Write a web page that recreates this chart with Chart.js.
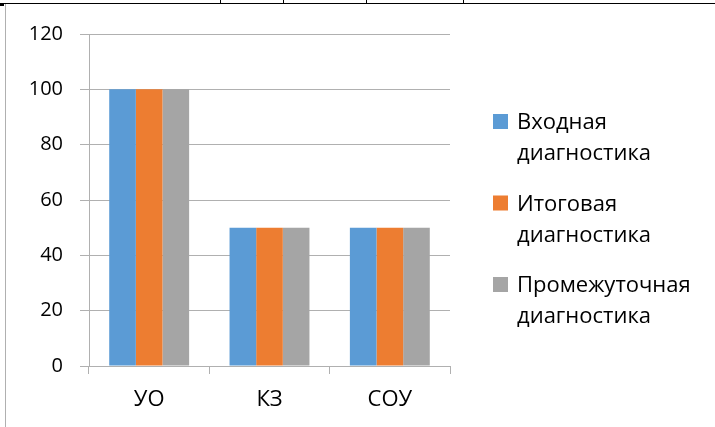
<!DOCTYPE html>
<html>
<head>
<meta charset="utf-8">
<script src="https://cdn.jsdelivr.net/npm/chart.js@4/dist/chart.umd.min.js"></script>
<style>
  html, body { margin: 0; padding: 0; background: #fff; }
  #wrap { position: relative; width: 715px; height: 427px; overflow: hidden; }
  .line { position: absolute; }
</style>
</head>
<body>
<div id="wrap">
  <div class="line" style="left:0;top:3px;width:715px;height:1px;background:#000"></div>
  <div class="line" style="left:220px;top:0;width:1px;height:4px;background:#000"></div>
  <div class="line" style="left:283px;top:0;width:1px;height:4px;background:#000"></div>
  <div class="line" style="left:366px;top:0;width:1px;height:4px;background:#000"></div>
  <div class="line" style="left:463px;top:0;width:1px;height:4px;background:#000"></div>
  <div class="line" style="left:0;top:3px;width:4px;height:3px;background:#000"></div>
  <div class="line" style="left:5px;top:4px;width:1px;height:423px;background:#b0b0b0"></div>
  <canvas id="myChart" width="715" height="427"></canvas>
</div>
<script>
const categories = ['УО', 'КЗ', 'СОУ'];
const seriesNames = ['Входная диагностика', 'Итоговая диагностика', 'Промежуточная диагностика'];
const vhodnaya = [100, 50, 50];
const itogovaya = [100, 50, 50];
const promezhutochnaya = [100, 50, 50];
const yTicks = [0, 20, 40, 60, 80, 100, 120];

const colors = ['#5B9BD5', '#ED7D31', '#A5A5A5'];
const fontFamily = "'Open Sans', 'Noto Sans', sans-serif";

// legend drawn by hand, each name split on two lines
const sideLegend = {
  id: 'sideLegend',
  afterDraw(chart) {
    const { ctx, chartArea } = chart;
    const x0 = chartArea.right + 43;
    let y0 = 114;
    ctx.save();
    ctx.font = '22px ' + fontFamily;
    ctx.textBaseline = 'middle';
    ctx.fillStyle = '#000';
    chart.data.datasets.forEach((ds) => {
      ctx.fillStyle = ds.backgroundColor;
      ctx.fillRect(x0, y0, 15, 15);
      ctx.fillStyle = '#000';
      const words = ds.label.split(' ');
      ctx.fillText(words[0], x0 + 24, y0 + 9);
      ctx.fillText(words.slice(1).join(' '), x0 + 24, y0 + 40);
      y0 += 81.5;
    });
    ctx.restore();
  },
};

new Chart(document.getElementById('myChart').getContext('2d'), {
  type: 'bar',
  data: {
    labels: categories,
    datasets: [
      { label: seriesNames[0], data: vhodnaya, backgroundColor: colors[0] },
      { label: seriesNames[1], data: itogovaya, backgroundColor: colors[1] },
      { label: seriesNames[2], data: promezhutochnaya, backgroundColor: colors[2] },
    ],
  },
  options: {
    responsive: false,
    animation: false,
    events: [],
    categoryPercentage: 0.664,
    barPercentage: 1,
    layout: { padding: { left: 0, top: 34, right: 265, bottom: 0 } },
    plugins: {
      legend: { display: false },
      tooltip: { enabled: false },
    },
    scales: {
      x: {
        grid: { display: true, drawOnChartArea: false, color: '#b0b0b0', tickLength: 8, offset: true },
        border: { color: '#b0b0b0' },
        ticks: { color: '#000', padding: 13, font: { size: 22, family: fontFamily } },
        afterFit(scale) { scale.height = 61; },
      },
      y: {
        min: 0,
        max: 120,
        afterBuildTicks(scale) { scale.ticks = yTicks.map((v) => ({ value: v })); },
        grid: { color: '#b0b0b0', tickLength: 9 },
        border: { color: '#b0b0b0' },
        ticks: { color: '#000', padding: 17, font: { size: 20, family: fontFamily } },
        afterFit(scale) { scale.width = 89; },
      },
    },
  },
  plugins: [sideLegend],
});
</script>
</body>
</html>
